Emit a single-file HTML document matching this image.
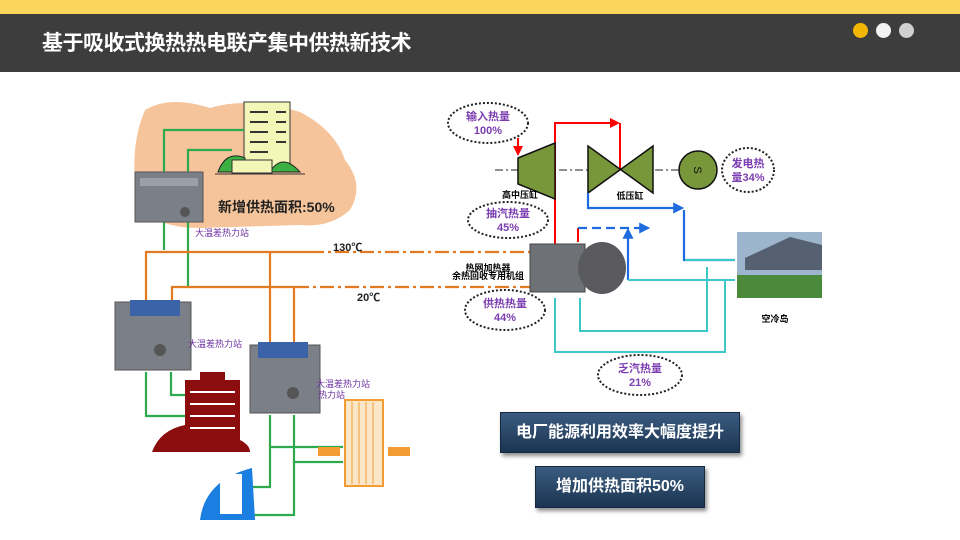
<!DOCTYPE html>
<html><head><meta charset="utf-8"><style>
body{margin:0;width:960px;height:540px;overflow:hidden;background:#fff;font-family:"Liberation Sans","Noto Sans CJK SC",sans-serif}
.box{position:absolute;color:#fff;font-weight:bold;text-align:center;background:linear-gradient(#3a5c80,#1c3552);box-shadow:2px 3px 4px rgba(0,0,0,.45);border:1px solid #152a40}
</style></head><body>
<div style="position:absolute;left:0;top:0;width:960px;height:14px;background:#fcd55c"></div>
<div style="position:absolute;left:0;top:14px;width:960px;height:58px;background:#3d3d3d"></div>
<div style="position:absolute;left:42px;top:27px;color:#fff;font-size:21px;font-weight:bold;letter-spacing:-0.5px">基于吸收式换热热电联产集中供热新技术</div>
<div style="position:absolute;left:853px;top:23px;width:15px;height:15px;border-radius:50%;background:#f2b705"></div>
<div style="position:absolute;left:876px;top:23px;width:15px;height:15px;border-radius:50%;background:#f2f2f2"></div>
<div style="position:absolute;left:899px;top:23px;width:15px;height:15px;border-radius:50%;background:#d0d0d0"></div>
<svg width="960" height="540" style="position:absolute;left:0;top:0" font-family="Liberation Sans,Noto Sans CJK SC,sans-serif">
<defs><marker id="ar" viewBox="0 0 10 10" refX="8" refY="5" markerWidth="5" markerHeight="5" orient="auto"><path d="M0,0L10,5L0,10z" fill="red"/></marker>
<marker id="ab" viewBox="0 0 10 10" refX="8" refY="5" markerWidth="5" markerHeight="5" orient="auto"><path d="M0,0L10,5L0,10z" fill="#1e6be0"/></marker></defs>
<!-- peach blob -->
<path d="M145,110 Q170,95 210,108 Q250,96 300,112 Q335,130 345,160 Q365,185 350,210 Q330,228 300,225 L200,228 Q150,228 138,200 Q128,150 145,110z" fill="#f6c49a"/>
<!-- green building -->
<rect x="244" y="102" width="46" height="70" fill="#f4f6b8" stroke="#333"/>
<path d="M218,172 Q226,150 245,158 L245,172z M270,172 Q282,152 300,172z" fill="#3cb043" stroke="#222"/>
<rect x="232" y="160" width="40" height="13" fill="#f4f6b8" stroke="#333"/>
<line x1="215" y1="174" x2="305" y2="174" stroke="#333"/>
<g stroke="#333" stroke-width="2"><line x1="250" y1="112" x2="268" y2="112"/><line x1="250" y1="122" x2="268" y2="122"/><line x1="250" y1="132" x2="268" y2="132"/><line x1="250" y1="142" x2="268" y2="142"/><line x1="250" y1="152" x2="268" y2="152"/><line x1="276" y1="112" x2="286" y2="112"/><line x1="276" y1="122" x2="286" y2="122"/><line x1="276" y1="132" x2="286" y2="132"/><line x1="276" y1="142" x2="286" y2="142"/></g>
<text x="218" y="212" font-size="14" font-weight="bold" fill="#222">新增供热面积:50%</text>
<!-- green lines -->
<g fill="none" stroke="#2eaa4e" stroke-width="2.2">
<path d="M164,250 V130 H244"/><path d="M188,288 V150 H232"/>
<path d="M146,372 V416 H240"/><path d="M171,372 V395 H240"/>
<path d="M270,415 V487 H250"/><path d="M294,415 V515 H250"/><path d="M270,447 H343"/><path d="M294,462 H343"/>
</g>
<!-- orange lines -->
<g fill="none" stroke="#e37a22" stroke-width="2.2">
<path d="M146,300 V252 H310"/><path d="M172,310 V287 H295"/><path d="M270,252 V345"/><path d="M294,287 V350"/>
<path d="M310,252 H540" stroke-dasharray="14,4,3,4"/><path d="M295,287 H540" stroke-dasharray="14,4,3,4"/>
</g>
<text x="333" y="251" font-size="11" font-weight="bold" fill="#222">130℃</text>
<text x="357" y="301" font-size="11" font-weight="bold" fill="#222">20℃</text>
<!-- machines -->
<g><rect x="135" y="172" width="68" height="50" fill="#7b8088" stroke="#555"/><rect x="140" y="178" width="58" height="8" fill="#9aa0a8"/><circle cx="185" cy="212" r="5" fill="#555"/></g>
<g><rect x="115" y="302" width="76" height="68" fill="#7b8088" stroke="#555"/><rect x="130" y="300" width="50" height="16" fill="#3b64a8"/><circle cx="160" cy="350" r="6" fill="#555"/></g>
<g><rect x="250" y="345" width="70" height="68" fill="#7b8088" stroke="#555"/><rect x="258" y="342" width="50" height="16" fill="#3b64a8"/><circle cx="293" cy="393" r="6" fill="#555"/></g>
<g font-size="9" fill="#6a2fa0"><text x="195" y="236">大温差热力站</text><text x="188" y="347">大温差热力站</text><text x="316" y="387">大温差热力站</text><text x="318" y="398">热力站</text></g>
<!-- red building -->
<path d="M152,452 Q160,430 185,425 L185,380 L200,380 L200,372 L225,372 L225,380 L240,380 L240,440 Q250,445 250,452z" fill="#8b0d0d"/>
<g stroke="#fff" stroke-width="2"><line x1="190" y1="392" x2="235" y2="392"/><line x1="190" y1="404" x2="235" y2="404"/><line x1="190" y1="416" x2="235" y2="416"/><line x1="190" y1="428" x2="235" y2="428"/></g>
<!-- orange building -->
<rect x="345" y="400" width="38" height="86" fill="#fbe6c8" stroke="#f39c33" stroke-width="2"/>
<g stroke="#f39c33"><line x1="352" y1="402" x2="352" y2="484"/><line x1="359" y1="402" x2="359" y2="484"/><line x1="366" y1="402" x2="366" y2="484"/><line x1="373" y1="402" x2="373" y2="484"/></g>
<rect x="318" y="447" width="22" height="9" fill="#f39c33"/><rect x="388" y="447" width="22" height="9" fill="#f39c33"/>
<!-- blue building -->
<path d="M200,520 Q205,480 252,468 L255,520z" fill="#1a7fe0"/><rect x="220" y="474" width="22" height="40" fill="#fff"/>
<!-- right: red -->
<path d="M555,245 V123 H618" fill="none" stroke="red" stroke-width="2" marker-end="url(#ar)"/>
<path d="M620,123 V170" fill="none" stroke="red" stroke-width="2"/>
<path d="M518,138 V154" stroke="red" stroke-width="2" marker-end="url(#ar)"/>
<path d="M578,242 V228" stroke="red" stroke-width="2"/>
<line x1="495" y1="170" x2="680" y2="170" stroke="#222" stroke-dasharray="8,3,2,3"/>
<path d="M518,158 L555,143 L555,199 L518,184z" fill="#78963a" stroke="#111" stroke-width="1.5"/>
<path d="M588,146 L653,193 L653,146 L588,193z" fill="#78963a" stroke="#111" stroke-width="1.5"/>
<circle cx="698" cy="170" r="19" fill="#78963a" stroke="#111" stroke-width="1.5"/>
<text x="698" y="174" font-size="11" text-anchor="middle" fill="#111" transform="rotate(90 698 170)">S</text>
<text x="520" y="198" font-size="9" font-weight="bold" text-anchor="middle">高中压缸</text>
<text x="630" y="199" font-size="9" font-weight="bold" text-anchor="middle">低压缸</text>
<!-- blue -->
<path d="M588,193 V208 H682" fill="none" stroke="#1e6be0" stroke-width="2.2" marker-end="url(#ab)"/>
<path d="M684,210 V260 H735" fill="none" stroke="#1e6be0" stroke-width="2.2"/>
<path d="M578,228 H648" fill="none" stroke="#1e6be0" stroke-width="2.2" stroke-dasharray="9,5" marker-end="url(#ab)"/>
<path d="M628,280 V230" fill="none" stroke="#1e6be0" stroke-width="2.2" marker-end="url(#ab)"/>
<!-- cyan -->
<g fill="none" stroke="#3cc8c8" stroke-width="2"><path d="M628,280 H735"/><path d="M685,260 H735"/><path d="M580,298 V331 H707 V267"/><path d="M555,298 V352 H725 V280"/></g>
<!-- exchanger -->
<rect x="530" y="244" width="55" height="48" fill="#6e7176" stroke="#444"/>
<ellipse cx="602" cy="268" rx="24" ry="26" fill="#5a5a5e"/>
<rect x="737" y="232" width="85" height="66" fill="#9db5cc"/><rect x="737" y="275" width="85" height="23" fill="#4a8a3a"/><path d="M745,258 L790,237 L822,245 L822,270 L745,270z" fill="#556070"/>
<text x="775" y="322" font-size="9" font-weight="bold" text-anchor="middle">空冷岛</text>
<text x="488" y="271" font-size="9" font-weight="bold" text-anchor="middle">热网加热器</text>
<text x="488" y="279" font-size="9" font-weight="bold" text-anchor="middle">余热回收专用机组</text>
<!-- ellipses -->
<g fill="#fff" stroke="#222" stroke-width="2" stroke-dasharray="2,2">
<ellipse cx="488" cy="123" rx="40" ry="20"/><ellipse cx="748" cy="170" rx="26" ry="22"/><ellipse cx="508" cy="220" rx="40" ry="18"/><ellipse cx="505" cy="310" rx="40" ry="20"/><ellipse cx="640" cy="375" rx="42" ry="20"/></g>
<g font-size="11" font-weight="bold" fill="#7a3cb0" text-anchor="middle">
<text x="488" y="120">输入热量</text><text x="488" y="134">100%</text>
<text x="748" y="167">发电热</text><text x="748" y="181">量34%</text>
<text x="508" y="217">抽汽热量</text><text x="508" y="231">45%</text>
<text x="505" y="307">供热热量</text><text x="505" y="321">44%</text>
<text x="640" y="372">乏汽热量</text><text x="640" y="386">21%</text></g>
</svg>
<div class="box" style="left:500px;top:412px;width:238px;height:39px;line-height:39px;font-size:16px">电厂能源利用效率大幅度提升</div>
<div class="box" style="left:535px;top:466px;width:168px;height:40px;line-height:40px;font-size:16px">增加供热面积50%</div>
</body></html>
